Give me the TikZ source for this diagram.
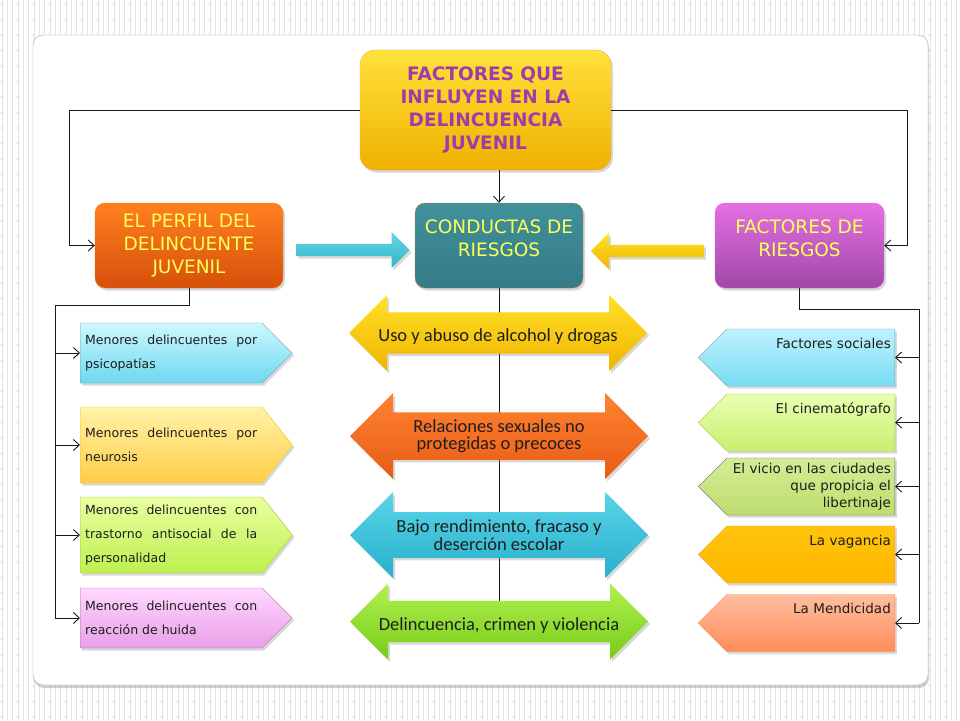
\documentclass[tikz,border=0pt]{standalone}
\usepackage{fontspec}
\setmainfont{DejaVu Sans}
\newfontfamily\arrowfont{Carlito}
\usepackage{tikz}
\usetikzlibrary{positioning,shapes,shapes.arrows,shapes.symbols,shadows,arrows,arrows.meta}
\definecolor{myyellow}{RGB}{255,255,90}
\definecolor{mypurple}{RGB}{160,60,170}
\definecolor{myline}{RGB}{25,25,25}
\definecolor{mytext}{RGB}{30,30,30}
\definecolor{titletop}{RGB}{255,226,60}   \definecolor{titlebot}{RGB}{240,176,0}
\definecolor{perfiltop}{RGB}{255,128,32}  \definecolor{perfilbot}{RGB}{214,80,10}
\definecolor{condtop}{RGB}{64,144,156}    \definecolor{condbot}{RGB}{52,124,134}
\definecolor{facttop}{RGB}{228,112,228}   \definecolor{factbot}{RGB}{160,72,168}
\definecolor{cyantop}{RGB}{100,215,230}   \definecolor{cyanbot}{RGB}{50,180,200}
\definecolor{goldtop}{RGB}{255,225,40}    \definecolor{goldbot}{RGB}{240,180,0}
\definecolor{orgtop}{RGB}{255,130,50}     \definecolor{orgbot}{RGB}{232,92,20}
\definecolor{bluetop}{RGB}{90,212,232}    \definecolor{bluebot}{RGB}{40,176,204}
\definecolor{greentop}{RGB}{176,240,80}   \definecolor{greenbot}{RGB}{120,204,24}
\definecolor{mAtop}{RGB}{205,248,255}     \definecolor{mAbot}{RGB}{110,215,240}
\definecolor{mBtop}{RGB}{255,242,170}     \definecolor{mBbot}{RGB}{255,205,70}
\definecolor{mCtop}{RGB}{232,255,160}     \definecolor{mCbot}{RGB}{190,240,80}
\definecolor{mDtop}{RGB}{255,215,255}     \definecolor{mDbot}{RGB}{232,160,232}
\definecolor{fAtop}{RGB}{190,242,255}     \definecolor{fAbot}{RGB}{120,220,242}
\definecolor{fBtop}{RGB}{232,255,176}     \definecolor{fBbot}{RGB}{200,240,112}
\definecolor{fCtop}{RGB}{212,236,150}     \definecolor{fCbot}{RGB}{190,222,110}
\definecolor{fDtop}{RGB}{255,196,10}      \definecolor{fDbot}{RGB}{255,184,0}
\definecolor{fEtop}{RGB}{255,190,160}     \definecolor{fEbot}{RGB}{255,140,90}
\tikzset{
  basic/.style  = {draw, drop shadow={opacity=0.3, shadow xshift=2pt, shadow yshift=-2.5pt},
                   font=\fontsize{13}{17}\selectfont, inner sep=4pt, text=mytext},
  tint/.style 2 args = {top color=#1, bottom color=#2},
  root/.style   = {basic, rounded corners=15pt, draw=orange!70, tint={titletop}{titlebot},
                   minimum width=251pt, minimum height=120pt,
                   align=center, text=mypurple, font=\bfseries\fontsize{18.5}{23}\selectfont},
  level 2/.style = {basic, rounded corners=10pt, minimum height=85pt, align=center,
                   text=myyellow, font=\fontsize{18.5}{23}\selectfont},
  two lines/.style = {text depth=14pt},
  menor/.style  = {basic, signal, signal to=east, signal pointer angle=90, text width=172pt,
                   align=justify, anchor=west, inner xsep=5pt, font=\fontsize{12.5}{24}\selectfont},
  factor/.style = {basic, signal, signal to=west, signal pointer angle=90, text width=160pt,
                   align=right, anchor=east, minimum height=57pt,
                   font=\fontsize{13.5}{17}\selectfont},
  one line/.style = {text height=10pt, text depth=29pt},
  conducta/.style = {basic, draw=none, double arrow, double arrow head extend=14pt,
                   minimum height=298pt, minimum width=76pt, align=center,
                   font=\arrowfont\fontsize{18.5}{17.5}\selectfont},
  low text/.style = {text height=21pt, text depth=4pt},
  flecha/.style = {basic, draw=none, single arrow, single arrow head extend=8pt,
                   minimum height=113pt, minimum width=36pt},
  edge/.style   = {-{Straight Barb[length=6pt,width=11pt]}, line width=0.9pt, draw=myline},
  pile/.style   = {line width=0.9pt, draw=myline},
  stripe/.style = {line width=0.9pt, draw=black!10},
  dots/.style   = {line width=2.6pt, draw=black!12, line cap=round, dash pattern=on 0pt off 15.5pt},
  frame/.style  = {fill=white, draw=black!35, rounded corners=10pt,
                   drop shadow={opacity=0.35, shadow xshift=1pt, shadow yshift=-3pt}}
}

\begin{document}
\begin{tikzpicture}[x=1pt,y=-1pt]
  \useasboundingbox (0,0) rectangle (960,720);
  % fondo
  \fill[white] (0,0) rectangle (960,720);
  \foreach \x in {2,7.333,...,962} \draw[stripe] (\x,0) -- (\x,720);
  \foreach \x in {2,18,...,962} \draw[dots] (\x,4) -- (\x,720);
  \draw[frame] (33,35) rectangle (928,685);

  % cabeceras
  \node[root] (title) at (485.5,110) {FACTORES QUE\\INFLUYEN EN LA\\DELINCUENCIA\\JUVENIL};
  \node[level 2, minimum width=188pt, draw=orange!70!brown, tint={perfiltop}{perfilbot}]
        (perfil) at (189,245.5) {EL PERFIL DEL\\DELINCUENTE\\JUVENIL};
  \node[level 2, two lines, minimum width=168pt, draw=brown!60!orange, tint={condtop}{condbot}]
        (conductas) at (499,245.5) {CONDUCTAS DE\\RIESGOS};
  \node[level 2, two lines, minimum width=169pt, draw=violet!40!magenta!60, tint={facttop}{factbot}]
        (factores) at (799.5,245.5) {FACTORES DE\\RIESGOS};

  \draw[edge] (title.west) -- ++(-290,0) |- (perfil.west);
  \draw[edge] (title.east) -- ++(296.5,0) |- (factores.east);
  \draw[edge] (title.south -| conductas.north) -- (conductas.north);

  \node[flecha, tint={cyantop}{cyanbot}] (b1) at (350,250) {};
  \node[flecha, shape border rotate=180, tint={goldtop}{goldbot}] (b2) at (650.5,251) {};

  % conductas
  \coordinate (stem) at (499,621);
  \draw[pile] (conductas.south) -- (stem);
  \node[conducta, low text, tint={goldtop}{goldbot}] (c1) at (498,333)
        {Uso y abuso de alcohol y drogas};
  \node[conducta, minimum width=86pt, double arrow head extend=17pt, tint={orgtop}{orgbot}]
        (c2) at (499,436) {Relaciones sexuales no\\protegidas o precoces};
  \node[conducta, minimum width=86pt, double arrow head extend=17pt, tint={bluetop}{bluebot}]
        (c3) at (499,535) {Bajo rendimiento, fracaso y\\deserción escolar};
  \node[conducta, low text, tint={greentop}{greenbot}] (c4) at (499,621.5)
        {Delincuencia, crimen y violencia};

  % perfil
  \node[menor, minimum height=60pt, draw=cyan!40!gray, tint={mAtop}{mAbot}]
        (m1) at (80,353) {Menores delincuentes por\linebreak psicopatías};
  \node[menor, minimum height=76pt, signal pointer angle=103, draw=orange!40!yellow,
        tint={mBtop}{mBbot}] (m2) at (80,445) {Menores delincuentes por\linebreak neurosis};
  \node[menor, minimum height=76pt, signal pointer angle=103, draw=lime!60!gray,
        tint={mCtop}{mCbot}] (m3) at (80,535)
        {Menores delincuentes con\linebreak trastorno antisocial de la\linebreak personalidad};
  \node[menor, minimum height=60pt, draw=magenta!35!gray, tint={mDtop}{mDbot}]
        (m4) at (80,618) {Menores delincuentes con\linebreak reacción de huida};

  \coordinate (lbus) at (55,305);
  \draw[pile] (perfil.south) |- (lbus) -- (lbus |- m4.west);
  \foreach \n in {m1,m2,m3,m4}
    \draw[edge] (lbus |- \n.west) -- (\n.west);

  % factores
  \node[factor, one line, draw=cyan!40!gray, tint={fAtop}{fAbot}] (f1)
        at (895,357.5) {Factores sociales};
  \node[factor, one line, draw=lime!60!gray, tint={fBtop}{fBbot}] (f2)
        at (895,422.5) {El cinematógrafo};
  \node[factor, draw=violet!25!gray, tint={fCtop}{fCbot}]
        (f3) at (895,486.5) {El vicio en las ciudades\\que propicia el\\libertinaje};
  \node[factor, one line, draw=orange!80, tint={fDtop}{fDbot}]
        (f4) at (895,554.5) {La vagancia};
  \node[factor, one line, draw=orange!60!red!70, tint={fEtop}{fEbot}]
        (f5) at (895,623) {La Mendicidad};

  \coordinate (rbus) at (919,309);
  \draw[pile] (factores.south) |- (rbus) -- (rbus |- f5.east);
  \foreach \n in {f1,f2,f3,f4,f5}
    \draw[edge] (rbus |- \n.east) -- (\n.east);
\end{tikzpicture}
\end{document}
